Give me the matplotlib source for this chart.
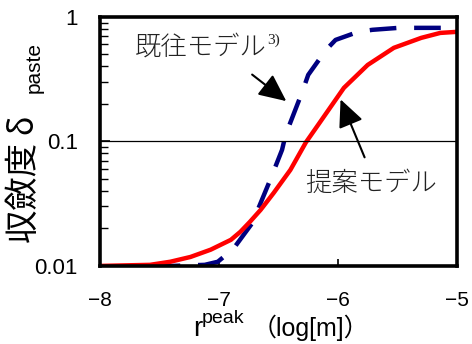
import numpy as np
import matplotlib
matplotlib.use("Agg")
import matplotlib.pyplot as plt
from matplotlib.ticker import FixedLocator, FixedFormatter, LogLocator, NullFormatter

plt.rcParams['font.family'] = ['Liberation Sans', 'Noto Sans CJK JP', 'DejaVu Sans']
JP = ['Noto Sans CJK JP', 'DejaVu Sans']

# proposed model (red, solid)
prop_r = [-8.0, -7.58, -7.41, -7.24, -7.07, -6.90, -6.82, -6.74, -6.65, -6.54,
          -6.40, -6.27, -6.15, -5.95, -5.75, -5.53, -5.30, -5.14, -5.0]
prop_d = [0.0100, 0.0102, 0.0108, 0.0118, 0.0135, 0.0162, 0.0188, 0.0226, 0.0282, 0.0386,
          0.059, 0.098, 0.143, 0.269, 0.411, 0.564, 0.678, 0.743, 0.758]

# existing model (navy, dashed)
prev_r = [-7.55, -7.39, -7.12, -7.01, -6.88, -6.72, -6.57, -6.47, -6.44, -6.30,
          -6.25, -6.10, -6.02, -5.83, -5.71, -5.49, -5.11]
prev_d = [0.0100, 0.0100, 0.0102, 0.0108, 0.0137, 0.0221, 0.049, 0.0855, 0.113, 0.25,
          0.342, 0.543, 0.653, 0.758, 0.787, 0.816, 0.816]

xticks = [-8, -7, -6, -5]
yticks = [0.01, 0.1, 1]
ytick_labels = ['0.01', '0.1', '1']

fig = plt.figure(figsize=(4.72, 3.44), dpi=100)
ax = fig.add_axes([0.212, 0.227, 0.756, 0.724])

ax.plot(prev_r, prev_d, color='#000080', lw=3.2, dashes=(6.0, 4.0),
        solid_capstyle='butt', dash_capstyle='butt')
ax.plot(prop_r, prop_d, color='#ff0000', lw=3.2)

ax.axhline(0.1, color='black', lw=0.9)

ax.set_yscale('log')
ax.set_xlim(-8, -5)
ax.set_ylim(0.01, 1)

ax.xaxis.set_major_locator(FixedLocator(xticks))
ax.set_xticklabels(['\u22128', '\u22127', '\u22126', '\u22125'])
ax.yaxis.set_major_locator(FixedLocator(yticks))
ax.yaxis.set_major_formatter(FixedFormatter(ytick_labels))
ax.yaxis.set_minor_locator(LogLocator(base=10, subs=np.arange(2, 10)))
ax.yaxis.set_minor_formatter(NullFormatter())

ax.tick_params(axis='x', which='major', direction='in', length=5, width=1.2,
               labelsize=15, pad=18)
ax.tick_params(axis='y', which='major', direction='in', length=7, width=1.2,
               labelsize=16, pad=16)
ax.tick_params(axis='y', which='minor', direction='in', length=6, width=1.0)

for s in ax.spines.values():
    s.set_linewidth(2.6)

# arrows pointing at each curve
ax.annotate('', xy=(-6.416, 0.204), xytext=(-6.74, 0.355),
            arrowprops=dict(arrowstyle='-|>,head_length=1.4,head_width=0.65',
                            mutation_scale=12, color='black', lw=1.5))
ax.annotate('', xy=(-5.987, 0.228), xytext=(-5.767, 0.071),
            arrowprops=dict(arrowstyle='-|>,head_length=1.4,head_width=0.65',
                            mutation_scale=12, color='black', lw=1.5))

ax.text(0.098, 0.88, '既往モデル', transform=ax.transAxes, fontsize=19,
        family=JP, weight='light', color='#222222', va='center', ha='left')
ax.text(0.468, 0.905, '3)', transform=ax.transAxes, fontsize=11,
        family=['Liberation Serif'], color='#222222', va='center', ha='left')
ax.text(0.574, 0.333, '提案モデル', transform=ax.transAxes, fontsize=19,
        family=JP, weight='light', color='#222222', va='center', ha='left')

# axis labels
fig.text(0.052, 0.294, '収斂度 δ', rotation=90, fontsize=24, family=JP,
         ha='center', va='bottom')
fig.text(0.072, 0.730, 'paste', rotation=90, fontsize=15,
         ha='center', va='bottom')
fig.text(193 / 472, 0.024, 'r', fontsize=20, ha='left', va='baseline')
fig.text(202 / 472, 0.060, 'peak', fontsize=14, ha='left', va='baseline')
fig.text(252 / 472, 0.024, '（log[m]）', fontsize=18, family=['Liberation Sans', 'Noto Sans CJK JP'],
         ha='left', va='baseline')

fig.savefig('out.png', dpi=100)
